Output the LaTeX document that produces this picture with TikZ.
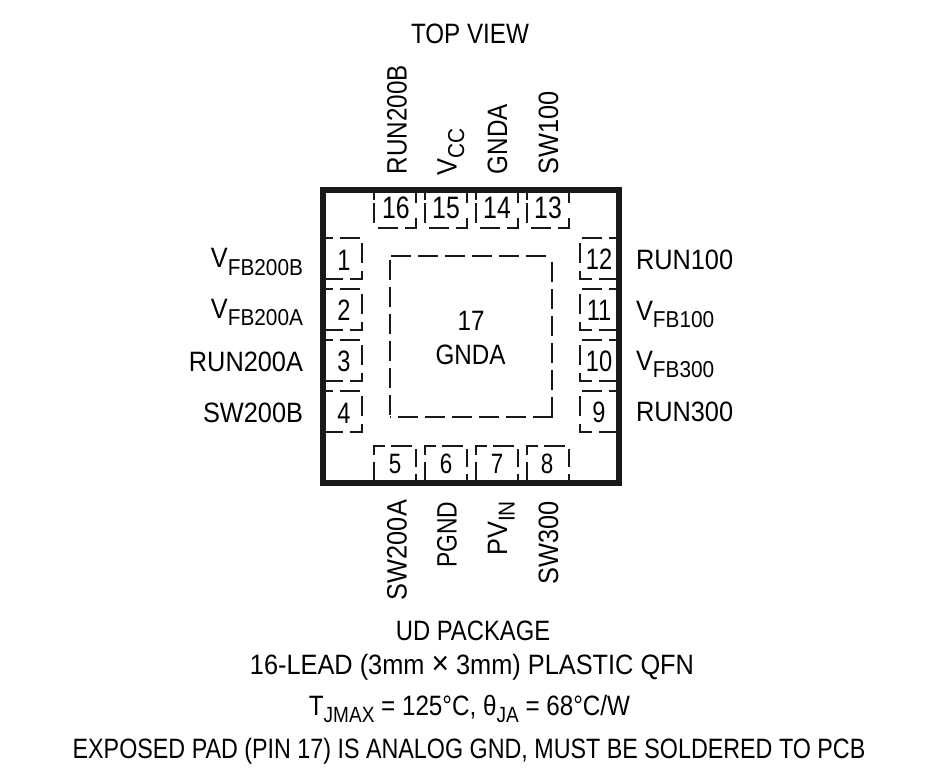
\documentclass[tikz,border=0pt]{standalone}
\usepackage{fontspec}
\setmainfont[FakeStretch=0.905]{Liberation Sans}
\newfontfamily\fcap[FakeStretch=0.865]{Liberation Sans}
\newfontfamily\fcapb[FakeStretch=0.85]{Liberation Sans}
\newfontfamily\flong[FakeStretch=0.832]{Liberation Sans}
\newfontfamily\fnarrow[FakeStretch=0.815]{Liberation Sans}
\newfontfamily\fdig[FakeStretch=0.80]{Liberation Sans}
\newcommand{\lowtxt}[1]{\raisebox{-7.5pt}{\fontsize{23}{23}\selectfont #1}}
\newcommand{\lowcap}[1]{\raisebox{-7.5pt}{\fontsize{22}{22}\selectfont #1}}
\begin{document}
\begin{tikzpicture}[x=1pt,y=-1pt,
  lbl/.style={inner sep=0pt,outer sep=0pt,font=\fontsize{28}{28}\selectfont,text=black},
  capl/.style={lbl,font=\fcap\fontsize{28}{28}\selectfont},
  narl/.style={lbl,font=\fnarrow\fontsize{28}{28}\selectfont},
  num/.style={inner sep=0pt,outer sep=0pt,text=black},
  numt/.style={num,font=\fdig\fontsize{31}{31}\selectfont},
  numl/.style={num,font=\fdig\fontsize{29.5}{30}\selectfont},
  numb/.style={num,font=\fdig\fontsize{28}{28}\selectfont},
  up/.style={rotate=90,anchor=base west},
  down/.style={rotate=90,anchor=base east},
  dsh/.style={line width=2.3pt,draw=black!90,dash pattern=on 20pt off 7pt},
  sidepad/.style={line width=2.3pt,draw=black!90,dash pattern=on 20pt off 7.3pt,dash phase=3pt},
  toppad/.style={line width=2.3pt,draw=black!90,dash pattern=on 7pt off 3pt on 20pt off 9pt on 20pt off 7pt on 21pt off 15pt on 10pt},
  botpad/.style={line width=2.3pt,draw=black!90,dash pattern=on 18pt off 7pt on 20pt off 6pt on 21pt off 7pt on 18pt off 7pt on 10pt},
  body/.style={line width=6pt,draw=black!90,line join=miter}]
\useasboundingbox (0,0) rectangle (932,777);
% dashed pads
\foreach \x in {374,425,476,527}{
  \draw[toppad] (\x,193) -- (\x,228) -- (\x+42,228) -- (\x+42,193);
  \draw[botpad] (\x,480) -- (\x,446) -- (\x+42,446) -- (\x+42,480);
}
\foreach \y in {238,289,340,391}{
  \draw[sidepad] (326,\y+41) -- (362,\y+41) -- (362,\y) -- (326,\y);
  \draw[sidepad] (616,\y+41) -- (580,\y+41) -- (580,\y) -- (616,\y);
}
\draw[dsh] (390,260) -- (390,418);
\draw[dsh] (553,417) -- (390,417);
\draw[dsh] (552,417) -- (552,255);
\draw[dsh] (391,256) -- (553,256);
% package body
\draw[body] (323,190) rectangle (619,483);
% numbers
\node[numt] (n16) at (396,208) {16};
\node[numt] (n15) at (446,208) {15};
\node[numt] (n14) at (497,208) {14};
\node[numt] (n13) at (548,208) {13};
\node[numb] (n5) at (395,464) {5};
\node[numb] (n6) at (446,464) {6};
\node[numb] (n7) at (497,464) {7};
\node[numb] (n8) at (547,464) {8};
\node[numl] (n1) at (344,260) {1};
\node[numl] (n2) at (344,310) {2};
\node[numl] (n3) at (344,361) {3};
\node[numl] (n4) at (344,413) {4};
\node[numl] (n12) at (599,259) {12};
\node[numl] (n11) at (599,310) {11};
\node[numl] (n10) at (599,361) {10};
\node[numl] (n9) at (599,412) {9};
\node[capl,anchor=base] (c17a) at (471,330) {17};
\node[capl,anchor=base] (c17b) at (470.5,364) {GNDA};
% left labels
\node[lbl,anchor=base east] (lv1) at (303,267.5) {V\lowtxt{FB200B}};
\node[lbl,anchor=base east] (lv2) at (303,318) {V\lowtxt{FB200A}};
\node[lbl,anchor=base east] (lv3) at (303,371) {RUN200A};
\node[lbl,anchor=base east] (lv4) at (303,422) {SW200B};
% right labels
\node[lbl,anchor=base west] (rv12) at (636,269.5) {RUN100};
\node[lbl,anchor=base west] (rv11) at (636,320) {V\lowtxt{FB100}};
\node[lbl,anchor=base west] (rv10) at (636,370) {V\lowtxt{FB300}};
\node[lbl,anchor=base west] (rv9) at (636,421.5) {RUN300};
% top labels
\node[capl,up] (t16) at (406.5,174) {RUN200B};
\node[lbl,up] (t15) at (456.5,175) {V\lowtxt{CC}};
\node[capl,up] (t14) at (507,174) {GNDA};
\node[lbl,up] (t13) at (558,174) {SW100};
% bottom labels
\node[lbl,down] (b5) at (406.5,500) {SW200A};
\node[narl,down] (b6) at (456.5,502) {PGND};
\node[lbl,down] (b7) at (507,501) {PV\lowtxt{IN}};
\node[lbl,down] (b8) at (558,501) {SW300};
% captions
\node[capl,anchor=base] (top) at (470,43.5) {TOP VIEW};
\node[lbl,font=\fcapb\fontsize{28}{28}\selectfont,anchor=base] (c1) at (473,640) {UD PACKAGE};
\node[lbl,anchor=base] (c2) at (472,674) {16-LEAD (3mm {\fontsize{33}{33}\selectfont ×} 3mm) PLASTIC QFN};
\node[capl,anchor=base] (c3) at (469.5,715) {T\lowcap{JMAX} = 125°C, θ\lowcap{JA} = 68°C/W};
\node[lbl,font=\flong\fontsize{28}{28}\selectfont,anchor=base] (c4) at (469,758) {EXPOSED PAD (PIN 17) IS ANALOG GND, MUST BE SOLDERED TO PCB};
\end{tikzpicture}
\end{document}
